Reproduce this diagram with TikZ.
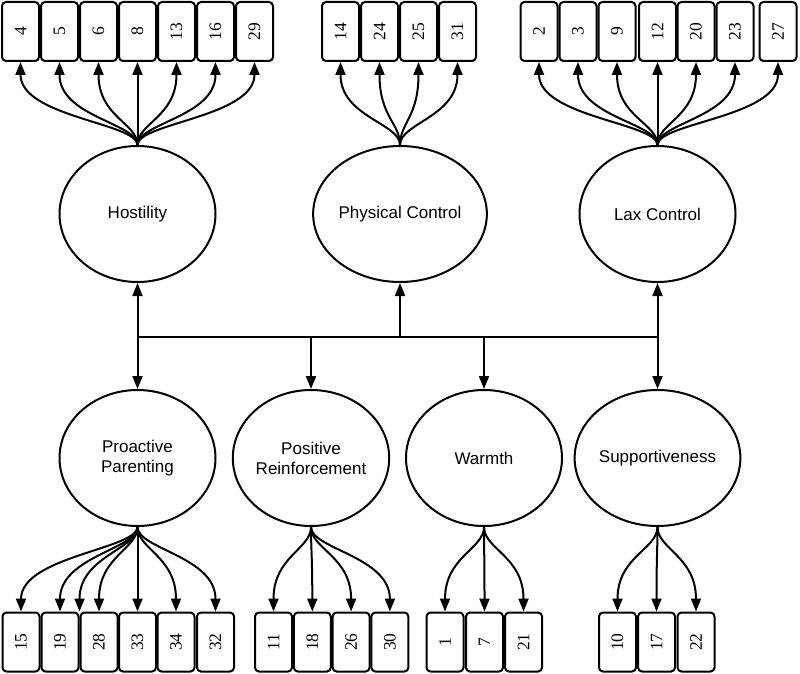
\documentclass[tikz,border=0pt]{standalone}
\usepackage{graphicx}
\usepackage{fontspec}
\setmainfont{Liberation Serif}
\newfontfamily\labfont{Liberation Sans}
\usetikzlibrary{arrows.meta,shapes.geometric}
\begin{document}
\begin{tikzpicture}[x=1pt,y=-1pt,line width=2pt,
  latent/.style={draw,ellipse,minimum width=156pt,minimum height=136pt,inner sep=0pt,
    font=\labfont\fontsize{17}{20}\selectfont,align=center},
  item/.style={draw,rounded corners=4pt,minimum width=37pt,minimum height=59pt,inner sep=0pt,
    font=\fontsize{17.5}{20}\selectfont},
  arr/.style={-{Triangle[length=13pt,width=10pt]}},
]
\useasboundingbox[fill=white] (0,0) rectangle (800,674);

% latent variables
\node[latent] (hos) at (137.5,214) {Hostility};
\node[latent] (phc) at (400,214) {Physical Control};
\node[latent] (lax) at (657.5,214) {Lax Control};
\node[latent] (pro) at (137.5,458) {Proactive\\Parenting};
\node[latent] (pos) at (311,458) {Positive\\Reinforcement};
\node[latent] (war) at (484,458) {Warmth};
\node[latent] (sup) at (657.5,458) {Supportiveness};

% top items
\foreach \n/\x in {4/20.5,5/59.5,6/98.5,8/137.5,13/176.5,16/215.5,29/254.5,
                   14/340.5,24/379.5,25/418.5,31/457.5,
                   2/539,3/578,9/617,12/657.5,20/696,23/735,27/778}
  \node[item] (t\n) at (\x,31.5) {\rotatebox{90}{\n}};

% bottom items
\foreach \n/\x in {15/21,19/60,28/99,33/137.5,34/176,32/215.5,
                   11/273.5,18/312.3,26/351.1,30/389.9,
                   1/445,7/484.5,21/523.5,
                   10/617.5,17/656.5,22/696}
  \node[item] (b\n) at (\x,642) {\rotatebox{90}{\n}};

% loadings: top
\foreach \n in {4,5,6,8,13,16,29}
  \draw[arr] (hos.north) .. controls +(0,-22) and +(0,55) .. (t\n.south);
\foreach \n in {14,24,25,31}
  \draw[arr] (phc.north) .. controls +(0,-22) and +(0,55) .. (t\n.south);
\foreach \n in {2,3,9,12,20,23,27}
  \draw[arr] (lax.north) .. controls +(0,-22) and +(0,55) .. (t\n.south);

% loadings: bottom
\foreach \n in {15,19,28,33,34,32}
  \draw[arr] (pro.south) .. controls +(0,22) and +(0,-55) .. (b\n.north);
\draw[arr] (pro.south) .. controls +(0,22) and +(0,-55) .. (b28.north west);
\foreach \n in {11,18,26,30}
  \draw[arr] (pos.south) .. controls +(0,22) and +(0,-55) .. (b\n.north);
\foreach \n in {1,7,21}
  \draw[arr] (war.south) .. controls +(0,22) and +(0,-55) .. (b\n.north);
\foreach \n in {10,17,22}
  \draw[arr] (sup.south) .. controls +(0,22) and +(0,-55) .. (b\n.north);

% correlation hub
\coordinate (hubL) at (137.5,337);
\coordinate (hubR) at (657.5,337);
\draw (hubL) -- (hubR);
\foreach \v in {hos,phc,lax}
  \draw[arr] (\v.south |- hubL) -- (\v.south);
\foreach \v in {pro,pos,war,sup}
  \draw[arr] (\v.north |- hubL) -- (\v.north);
\end{tikzpicture}
\end{document}
